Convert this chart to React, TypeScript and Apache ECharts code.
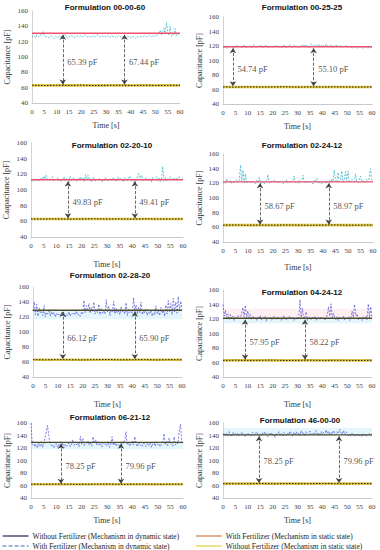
import React, { useEffect, useRef } from "react";
import * as echarts from "echarts";

const TITLES = [
  "Formulation 00-00-60",
  "Formulation 00-25-25",
  "Formulation 02-20-10",
  "Formulation 02-24-12",
  "Formulation 02-28-20",
  "Formulation 04-24-12",
  "Formulation 06-21-12",
  "Formulation 46-00-00",
];

const Y_NAMES = [
  "Capacitance [pF]",
  "Capacitance [pF]",
  "Caapacitance [pF]",
  "Capacitance [pF]",
  "Capacitance [pF]",
  "Capacitance [pF]",
  "Capacitance [pF]",
  "Capacitance [pF]",
];

const X_NAME = "Time [s]";
const X_TICKS = { min: 0, max: 60, step: 5 };
const Y_TICKS = { min: 40, max: 160, step: 20 };

const N_WO_DYN = "Without Fertilizer (Mechanism in dynamic state)";
const N_W_STAT = "With Fertilizer (Mechanism in static state)";
const N_W_DYN = "With Fertilizer (Mechanism in dynamic state)";
const N_WO_STAT = "Without Fertilizer (Mechanism in static state)";

// With fertilizer, dynamic state (sampled every 0.5 s, 0..60 s)
const W_DYN_1 = [
  126,128,127,125,129,127,126,128,131,133,128,126,127,125,126,128,127,126,124,127,126,
  125,127,128,126,124,127,129,126,125,127,126,128,127,125,126,128,127,126,127,
  128,126,127,129,127,126,128,127,125,127,128,126,127,129,128,126,127,128,126,127,
  126,128,127,125,127,128,126,127,125,126,128,127,126,125,127,126,124,126,127,125,
  126,125,127,126,124,126,127,125,126,127,126,128,127,126,127,128,127,126,128,127,
  128,127,129,131,135,129,133,138,131,145,134,128,140,127,130,129,137,128,131,129,130,
];
const W_DYN_2 = [
  117,118,119,117,118,120,118,119,117,118,119,121,118,120,119,118,120,121,119,118,
  120,119,121,118,120,122,119,118,120,119,121,120,118,119,121,120,119,118,120,119,
  118,120,119,121,118,119,120,118,119,121,120,118,119,120,122,119,118,120,121,119,
  120,118,119,121,120,122,119,121,120,118,121,123,120,119,122,120,121,123,119,120,
  122,121,119,123,120,121,119,122,120,118,121,120,122,119,121,120,118,119,121,120,
  119,118,120,119,117,118,119,118,117,118,119,117,118,117,118,119,117,118,117,118,118,
];
const W_DYN_3 = [
  112,111,113,112,114,112,113,112,115,113,118,114,119,113,112,115,113,117,112,114,
  113,116,112,114,111,113,117,112,115,113,110,118,112,114,116,113,111,115,112,117,
  113,115,111,120,113,119,114,112,110,116,113,111,114,112,115,113,110,114,112,116,
  113,111,115,114,112,116,113,111,114,117,112,115,113,110,116,114,112,115,118,113,
  111,110,113,112,117,121,113,119,115,112,114,116,111,115,113,110,116,114,113,117,
  112,115,111,114,130,113,116,112,115,113,117,114,112,116,113,115,114,117,113,115,114,
];
const W_DYN_4 = [
  121,123,120,126,122,121,124,120,122,121,123,125,121,124,145,122,138,121,133,120,
  122,124,121,123,120,122,119,124,121,128,120,123,121,119,122,124,132,121,120,123,
  122,125,121,123,120,122,124,121,119,123,121,125,120,122,124,121,123,130,121,122,
  120,124,121,123,131,122,120,124,121,122,123,121,119,124,122,127,121,120,123,119,
  121,122,120,123,121,124,121,126,122,138,124,121,135,122,125,137,121,124,136,122,
  137,121,123,126,124,122,133,123,121,125,130,122,124,121,123,126,122,127,140,124,123,
];
const W_DYN_5 = [
  128,140,123,137,121,132,125,127,122,135,120,126,124,130,121,127,123,126,120,125,
  122,124,121,126,123,125,119,124,122,127,121,125,124,126,123,128,122,124,121,126,
  124,142,126,135,128,138,125,133,127,140,124,130,126,137,123,132,125,128,124,143,
  126,134,122,129,127,141,124,131,125,128,123,134,126,129,124,139,122,130,126,128,
  125,146,127,136,124,133,126,140,123,128,125,131,122,127,124,129,121,126,123,135,
  124,128,122,133,125,129,121,136,124,142,126,138,123,145,127,140,125,147,128,141,130,
];
const W_DYN_6 = [
  140,124,132,122,127,119,126,121,124,118,123,121,125,120,122,127,136,123,139,121,
  131,122,126,119,124,121,122,118,123,120,125,119,122,121,124,117,122,120,123,118,
  121,124,122,119,123,121,120,118,122,125,120,119,121,123,124,120,122,118,121,120,
  123,119,147,122,135,120,124,130,118,121,123,119,122,120,124,118,121,122,119,123,
  120,122,118,121,126,137,124,141,122,128,121,119,123,118,122,120,121,124,119,122,
  120,123,118,121,131,122,140,124,127,119,122,121,118,123,120,124,119,141,122,137,121,
];
const W_DYN_7 = [
  160,125,130,122,126,120,128,123,130,121,125,136,145,156,140,128,124,126,120,123,
  127,121,125,130,122,128,120,126,123,124,128,122,126,133,124,130,125,128,122,139,
  126,135,124,129,127,131,125,128,123,138,127,133,125,130,124,127,122,129,126,128,
  124,130,121,126,138,124,129,123,127,125,122,130,126,128,132,146,125,129,123,127,
  131,125,138,127,122,129,124,126,123,128,125,122,127,124,129,121,126,128,123,130,
  125,127,122,126,128,143,125,131,124,136,128,126,123,138,125,129,127,146,158,131,128,
];
const W_DYN_8 = [
  141,144,139,143,140,146,142,138,145,141,143,140,144,139,142,145,140,143,138,142,
  144,141,139,143,145,140,142,146,141,139,143,140,144,142,146,141,138,143,140,145,
  139,142,137,144,141,146,140,143,139,145,142,140,144,141,147,143,139,145,142,146,
  141,144,140,148,142,145,139,146,143,141,147,142,140,145,143,148,141,144,140,146,
  142,145,141,149,143,147,140,145,142,148,144,141,146,143,150,145,142,148,141,146,
  143,140,142,139,144,141,138,143,140,142,139,141,138,143,140,142,139,141,143,140,141,
];
const W_DYN = [W_DYN_1, W_DYN_2, W_DYN_3, W_DYN_4, W_DYN_5, W_DYN_6, W_DYN_7, W_DYN_8];

// Without fertilizer, dynamic state (every 5 s)
const WO_DYN = [
  [63.2, 62.8, 63.1, 62.9, 63.3, 62.7, 63.0, 63.2, 62.8, 63.1, 62.9, 63.0, 63.1],
  [63.6, 63.3, 63.7, 63.4, 63.5, 63.8, 63.3, 63.6, 63.4, 63.7, 63.5, 63.3, 63.6],
  [63.1, 62.9, 63.2, 62.8, 63.0, 63.3, 62.9, 63.1, 62.8, 63.2, 63.0, 62.9, 63.1],
  [63.0, 63.2, 62.8, 63.1, 62.9, 63.2, 63.0, 62.8, 63.1, 63.3, 62.9, 63.0, 63.2],
  [63.1, 62.9, 63.2, 63.0, 62.8, 63.1, 63.3, 62.9, 63.0, 63.2, 62.8, 63.1, 63.0],
  [63.0, 63.2, 62.9, 63.1, 63.3, 62.8, 63.0, 63.2, 62.9, 63.1, 63.0, 62.8, 63.1],
  [62.1, 61.9, 62.2, 62.0, 61.8, 62.1, 62.3, 61.9, 62.0, 62.2, 61.8, 62.1, 62.0],
  [63.1, 62.9, 63.0, 63.2, 62.8, 63.1, 63.0, 62.9, 63.2, 63.0, 62.8, 63.1, 63.0],
];

// Static state levels
const W_STAT = [131, 119, 113, 122, 129, 121, 129, 141];
const WO_STAT = [63, 63.5, 63, 63, 63, 63, 62, 63];

// Arrow positions (s) and differences
const ARROW_T = [
  [12.5, 37.5], [4, 36.5], [14.6, 41], [14.8, 42.3],
  [12, 41], [8.9, 33], [11.8, 35.5], [14.5, 46.7],
];
const DIFFS = [
  ["65.39 pF", "67.44 pF"],
  ["54.74 pF", "55.10 pF"],
  ["49.83 pF", "49.41 pF"],
  ["58.67 pF", "58.97 pF"],
  ["66.12 pF", "65.90 pF"],
  ["57.95 pF", "58.22 pF"],
  ["78.25 pF", "79.96 pF"],
  ["78.25 pF", "79.96 pF"],
];

// Light density bands behind the dense dynamic traces (lower panels)
const BANDS: (number[][] | null)[] = [
  null, null, null, null,
  [[117, 129]],
  [[114, 121], [121, 134]],
  [[118, 129]],
  [[140, 152]],
];

// Layout (pixels)
const LAYOUT = [
  { left: 32, top: 11, width: 148, height: 92, tx: 105, ty: 7, xGap: 18, yGap: 21 },
  { left: 223, top: 17, width: 149, height: 87, tx: 302, ty: 7, xGap: 18, yGap: 20 },
  { left: 31, top: 143, width: 152, height: 94, tx: 112, ty: 145, xGap: 23, yGap: 21 },
  { left: 223, top: 154, width: 150, height: 88, tx: 302, ty: 145, xGap: 21, yGap: 20 },
  { left: 33, top: 287, width: 149, height: 90, tx: 110, ty: 275, xGap: 23, yGap: 22 },
  { left: 223, top: 290, width: 149, height: 87, tx: 302, ty: 292, xGap: 23, yGap: 20 },
  { left: 31, top: 423, width: 152, height: 75, tx: 110, ty: 417, xGap: 18, yGap: 20 },
  { left: 223, top: 423, width: 149, height: 75, tx: 300, ty: 420, xGap: 18, yGap: 20 },
];

const SERIF = "'Liberation Serif', 'DejaVu Serif', serif";
const SANS = "'Liberation Sans', Arial, sans-serif";

function toXY(vals: number[]) {
  const n = vals.length;
  return vals.map((v, i) => [(i * (X_TICKS.max - X_TICKS.min)) / (n - 1) + X_TICKS.min, v]);
}

function buildOption() {
  const grid: any[] = [];
  const xAxis: any[] = [];
  const yAxis: any[] = [];
  const series: any[] = [];
  const graphic: any[] = [];

  for (let i = 0; i < 8; i++) {
    const L = LAYOUT[i];
    const lower = i >= 4;
    grid.push({ left: L.left, top: L.top, width: L.width, height: L.height, containLabel: false });
    xAxis.push({
      gridIndex: i,
      type: "value",
      min: X_TICKS.min,
      max: X_TICKS.max,
      interval: X_TICKS.step,
      axisLine: { show: true, lineStyle: { color: "#c9c9c9", width: 1 } },
      axisTick: { show: false },
      splitLine: { show: false },
      axisLabel: { fontSize: 7, fontFamily: SERIF, color: "#444", margin: 5 },
      name: X_NAME,
      nameLocation: "middle",
      nameGap: L.xGap,
      nameTextStyle: { fontSize: 8, fontFamily: SERIF, color: "#333" },
    });
    yAxis.push({
      gridIndex: i,
      type: "value",
      min: Y_TICKS.min,
      max: Y_TICKS.max,
      interval: Y_TICKS.step,
      axisLine: { show: true, lineStyle: { color: "#d3d3d3", width: 1 } },
      axisTick: { show: false },
      splitLine: { show: false },
      axisLabel: { fontSize: 7, fontFamily: SERIF, color: "#444", margin: 4 },
      name: Y_NAMES[i],
      nameLocation: "middle",
      nameGap: L.yGap,
      nameTextStyle: { fontSize: 8, fontFamily: SERIF, color: "#333" },
    });

    graphic.push({
      type: "text",
      x: L.tx,
      y: L.ty,
      z: 100,
      style: {
        text: TITLES[i],
        textAlign: "center",
        textVerticalAlign: "middle",
        font: `bold 8px ${SANS}`,
        fill: "#111",
      },
    });

    const bands = BANDS[i];
    // dynamic with fertilizer (noisy dashed)
    series.push({
      name: N_W_DYN,
      type: "line",
      xAxisIndex: i,
      yAxisIndex: i,
      data: toXY(W_DYN[i]),
      symbol: "none",
      z: 2,
      lineStyle: { color: lower ? "#5a5ad8" : "#38b4c9", width: 0.8, type: [2, 1.5] },
      markArea: bands
        ? {
            silent: true,
            data: bands.map((b, k) => [
              { yAxis: b[0], itemStyle: { color: k === 1 ? "rgba(250,205,215,0.35)" : "rgba(175,230,245,0.35)" } },
              { yAxis: b[1] },
            ]),
          }
        : undefined,
    });
    // static with fertilizer
    series.push({
      name: N_W_STAT,
      type: "line",
      xAxisIndex: i,
      yAxisIndex: i,
      data: [[X_TICKS.min, W_STAT[i]], [X_TICKS.max, W_STAT[i]]],
      symbol: "none",
      z: 3,
      lineStyle: { color: lower ? "#4c4c2c" : "#f0506e", width: 1.4 },
    });
    // static without fertilizer
    const top = W_STAT[i] - 2;
    const bot = WO_STAT[i] + 1;
    series.push({
      name: N_WO_STAT,
      type: "line",
      xAxisIndex: i,
      yAxisIndex: i,
      data: [[X_TICKS.min, WO_STAT[i]], [X_TICKS.max, WO_STAT[i]]],
      symbol: "none",
      z: 3,
      lineStyle: { color: "#e2c743", width: 2.6 },
      markLine: {
        silent: true,
        symbol: ["arrow", "arrow"],
        symbolSize: 5,
        lineStyle: { type: "dashed", color: "#444", width: 0.8 },
        itemStyle: { color: "#222" },
        label: { show: false },
        data: ARROW_T[i].map((t) => [{ coord: [t, top] }, { coord: [t, bot] }]),
      },
    });
    // dynamic without fertilizer
    series.push({
      name: N_WO_DYN,
      type: "line",
      xAxisIndex: i,
      yAxisIndex: i,
      data: toXY(WO_DYN[i]),
      symbol: "none",
      z: 4,
      lineStyle: { color: "#1c1c1c", width: 1, type: [1.5, 1.5] },
    });
    // difference labels
    series.push({
      type: "scatter",
      xAxisIndex: i,
      yAxisIndex: i,
      symbolSize: 1,
      itemStyle: { color: "rgba(0,0,0,0)" },
      z: 5,
      silent: true,
      data: ARROW_T[i].map((t, k) => [t, (top + bot) / 2 - 3, DIFFS[i][k]]),
      label: {
        show: true,
        position: "right",
        distance: 4,
        formatter: (p: any) => p.data[2],
        fontSize: 8.5,
        fontFamily: SERIF,
        color: "#222",
      },
    });
  }

  const legendCommon = {
    orient: "vertical",
    itemWidth: 26,
    itemHeight: 6,
    itemGap: 2,
    padding: 0,
    selectedMode: false,
    textStyle: { fontSize: 7.5, fontFamily: SERIF, color: "#222", padding: [0, 0, 0, -1] },
  };

  return {
    animation: false,
    backgroundColor: "#ffffff",
    grid,
    xAxis,
    yAxis,
    series,
    graphic,
    legend: [
      {
        ...legendCommon,
        left: 2,
        top: 532,
        data: [
          { name: N_WO_DYN, lineStyle: { color: "#1f2a48", width: 1.2, type: "solid" } },
          { name: N_W_DYN, lineStyle: { color: "#4466bb", width: 1, type: "dashed" } },
        ].map((d) => ({ name: d.name, lineStyle: d.lineStyle, itemStyle: { opacity: 0 } })),
      },
      {
        ...legendCommon,
        left: 195,
        top: 532,
        data: [
          { name: N_W_STAT, lineStyle: { color: "#cf7d45", width: 1.2, type: "solid" } },
          { name: N_WO_STAT, lineStyle: { color: "#e2dc5a", width: 1.4, type: "solid" } },
        ].map((d) => ({ name: d.name, lineStyle: d.lineStyle, itemStyle: { opacity: 0 } })),
      },
    ],
  };
}

export default function App() {
  const ref = useRef<HTMLDivElement>(null);
  useEffect(() => {
    if (!ref.current) return;
    const chart = echarts.init(ref.current, null, { renderer: "svg" });
    chart.setOption(buildOption() as any);
    return () => chart.dispose();
  }, []);
  return (
    <div
      ref={ref}
      style={{ position: "absolute", left: 0, top: 0, width: 380, height: 550, background: "#fff" }}
    />
  );
}
